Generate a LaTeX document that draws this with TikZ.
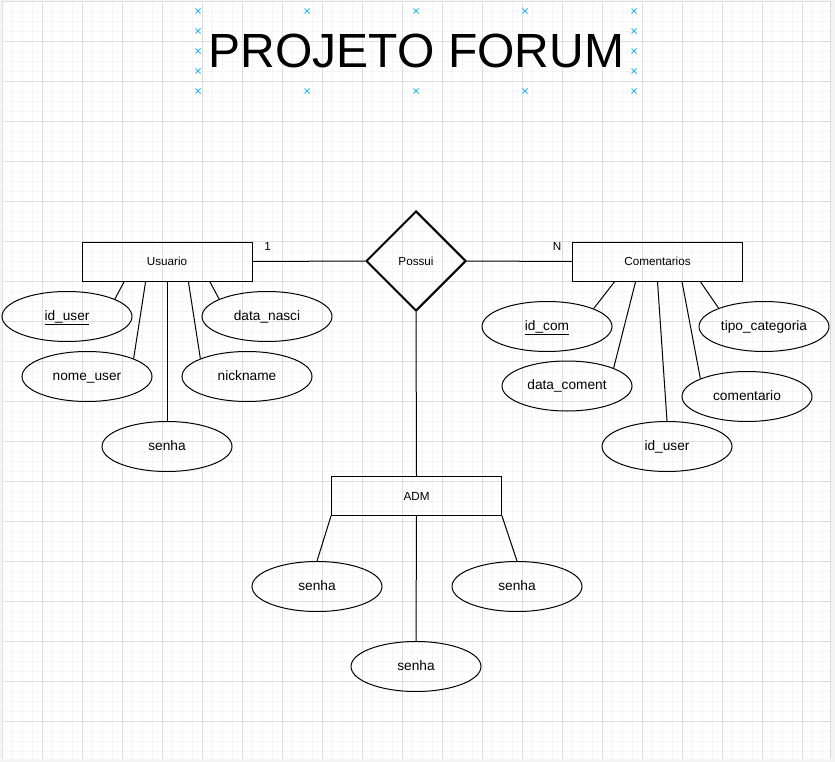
\documentclass[tikz,border=0pt]{standalone}
\usepackage{fontspec}
\setmainfont{Liberation Sans}
\usetikzlibrary{shapes.geometric,calc}

\definecolor{gradefina}{RGB}{245,245,245}
\definecolor{gradeforte}{RGB}{222,222,222}
\definecolor{alca}{RGB}{41,182,242}

\tikzset{
	entidade/.style={draw, rectangle, line width=1pt, minimum width=170pt, minimum height=39pt, inner sep=0pt, font=\fontsize{11.7}{14}\selectfont},
	relacao/.style={draw, diamond, aspect=1, line width=2pt, minimum width=100pt, minimum height=100pt, inner sep=0pt, font=\fontsize{11.7}{14}\selectfont},
	atributo/.style={draw, ellipse, line width=1pt, minimum width=130pt, minimum height=50pt, inner sep=0pt, text height=0.72em, text depth=0pt, font=\fontsize{13.7}{16}\selectfont},
	card/.style={inner sep=0pt, font=\fontsize{11.7}{14}\selectfont},
	titulo/.style={inner sep=0pt, font=\fontsize{48}{56}\selectfont},
	liga/.style={line width=1pt},
	handle/.style={draw=alca, line width=0.9pt}
}

\begin{document}
\begin{tikzpicture}[x=1pt, y=-1pt]
	\useasboundingbox (0,0) rectangle (835,762);
	\fill[gray!8] (0,0) rectangle (835,762);
	\fill[white] (2,1) rectangle (830,759);
	\foreach \gx in {2,12,...,822} \draw[gradefina, line width=0.8pt] (\gx,1) -- (\gx,759);
	\foreach \gy in {1,11,...,751} \draw[gradefina, line width=0.8pt] (2,\gy) -- (830,\gy);
	\foreach \gx in {2,42,...,802} \draw[gradeforte, line width=0.9pt] (\gx,1) -- (\gx,759);
	\foreach \gy in {1,41,...,721} \draw[gradeforte, line width=0.9pt] (2,\gy) -- (830,\gy);
	\draw[gray!30, line width=1.5pt] (830.5,1) -- (830.5,759);

	\foreach \mx/\my in {198/11,307/11,416/11,525/11,634/11,198/91,307/91,416/91,525/91,634/91,198/31,198/51,198/71,634/31,634/51,634/71}
		\draw[handle] (\mx,\my) +(-2.5,-2.5) -- +(2.5,2.5) +(-2.5,2.5) -- +(2.5,-2.5);
	\node[titulo] (titulo) at (416.5,51) {PROJETO FORUM};

	\node[entidade] (usuario) at (167,261.5) {Usuario};
	\node[relacao] (possui) at (416,261) {Possui};
	\node[entidade] (comentarios) at (657.5,261.5) {Comentarios};
	\node[entidade] (adm) at (416.5,496) {ADM};
	\node[card] (card1) at (267.5,246) {1};
	\node[card] (cardN) at (557,246) {N};

	\node[atributo] (iduser) at (67,316.5) {\underline{id\_user}};
	\node[atributo] (datanasci) at (267,316.5) {data\_nasci};
	\node[atributo] (nomeuser) at (87,376.5) {nome\_user};
	\node[atributo] (nickname) at (247,376.5) {nickname};
	\node[atributo] (senhausu) at (167,446.5) {senha};

	\node[atributo] (idcom) at (547,326.5) {\underline{id\_com}};
	\node[atributo] (tipocat) at (764,326.5) {tipo\_categoria};
	\node[atributo] (datacoment) at (567,386) {data\_coment};
	\node[atributo] (comentario) at (747,396.5) {comentario};
	\node[atributo] (idusercom) at (667,446.5) {id\_user};

	\node[atributo] (senhaesq) at (317,586.5) {senha};
	\node[atributo] (senhadir) at (517,586.5) {senha};
	\node[atributo] (senhabaixo) at (416,666.5) {senha};

	\draw[liga] (usuario.east) -- (possui.west);
	\draw[liga] (possui.east) -- (comentarios.west);
	\draw[liga] (possui.south) -- (adm.north);

	\draw[liga] ($(usuario.south west)!0.25!(usuario.south east)$) -- (iduser.20);
	\draw[liga] ($(usuario.south west)!0.375!(usuario.south east)$) -- (nomeuser.21);
	\draw[liga] (usuario.south) -- (senhausu.north);
	\draw[liga] ($(usuario.south west)!0.625!(usuario.south east)$) -- (nickname.159);
	\draw[liga] ($(usuario.south west)!0.75!(usuario.south east)$) -- (datanasci.160);

	\draw[liga] ($(comentarios.south west)!0.25!(comentarios.south east)$) -- (idcom.21);
	\draw[liga] ($(comentarios.south west)!0.372!(comentarios.south east)$) -- (datacoment.21);
	\draw[liga] (comentarios.south) -- (idusercom.north);
	\draw[liga] ($(comentarios.south west)!0.643!(comentarios.south east)$) -- (comentario.159);
	\draw[liga] ($(comentarios.south west)!0.75!(comentarios.south east)$) -- (tipocat.158);

	\draw[liga] (adm.south west) -- (senhaesq.north);
	\draw[liga] (adm.south) -- (senhabaixo.north);
	\draw[liga] (adm.south east) -- (senhadir.north);
\end{tikzpicture}
\end{document}
